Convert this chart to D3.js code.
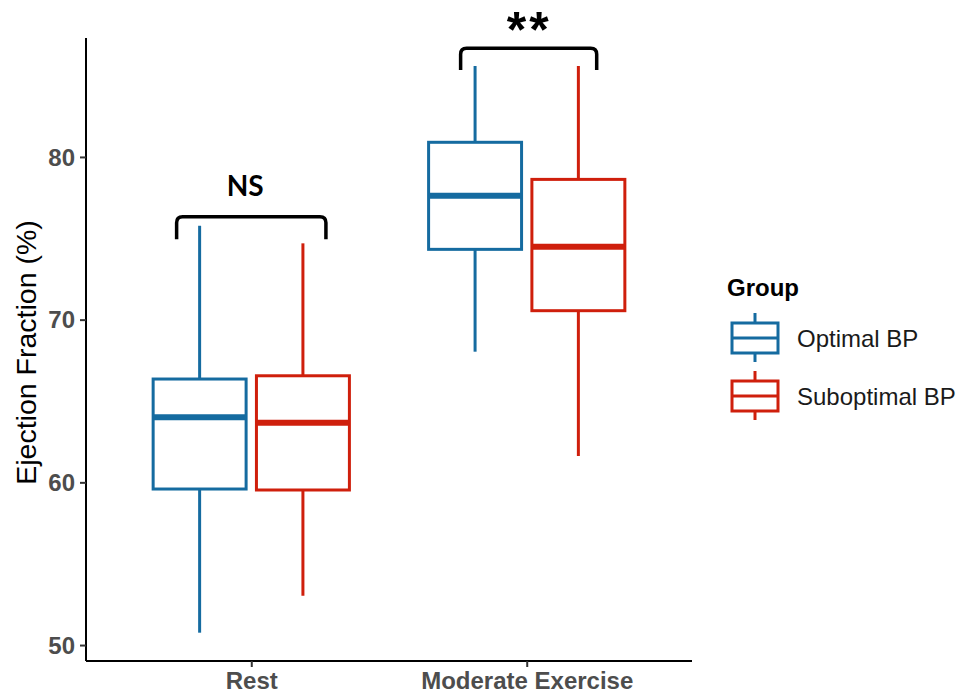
<!DOCTYPE html>
<html>
<head>
<meta charset="utf-8">
<script src="https://cdn.jsdelivr.net/npm/d3@7"></script>
<style>
  html, body { margin: 0; padding: 0; background: #fff; }
  svg { display: block; }
</style>
</head>
<body>
<svg id="chart" width="963" height="695"></svg>
<script>
// Conditions on the x axis and the two BP groups
const conditions = ["Rest", "Moderate Exercise"];
const groups = ["Optimal BP", "Suboptimal BP"];
const groupColors = ["#156ba0", "#cf1f0c"];

// Box summaries per condition: [lower whisker, Q1, median, Q3, upper whisker]
const optimalStats = [
  [50.76, 59.59, 64.0, 66.35, 75.77],
  [68.03, 74.32, 77.62, 80.9, 85.59]
];
const suboptimalStats = [
  [53.03, 59.53, 63.66, 66.55, 74.69],
  [61.62, 70.55, 74.48, 78.62, 85.59]
];

// Significance annotations: bracket top, bracket end, label
const sigLabels = ["NS", "**"];
const sigTop = [76.33, 86.68];
const sigEnd = [74.94, 85.35];
const yTicks = [50, 60, 70, 80];

const svg = d3.select("#chart");
const plotLeft = 86, plotRight = 692, plotTop = 38, plotBottom = 661;

const x = d3.scalePoint().domain(conditions).range([plotLeft, plotRight]).padding(0.6);
const step = x.step();
const xg = d3.scaleBand().domain(groups).range([-0.375 * step, 0.375 * step]);
const y = d3.scaleLinear().domain([49.02, 87.31]).range([plotBottom, plotTop]);

const boxW = xg.bandwidth() * 0.9;

// Axes
const yAxis = svg.append("g").attr("transform", `translate(${plotLeft},0)`)
  .call(d3.axisLeft(y).tickValues(yTicks).tickSize(6).tickPadding(5).tickSizeOuter(0));
const xAxis = svg.append("g").attr("transform", `translate(0,${plotBottom})`)
  .call(d3.axisBottom(x).tickSize(6).tickPadding(5).tickSizeOuter(0));
[yAxis, xAxis].forEach(a => {
  a.select(".domain").attr("stroke", "#000").attr("stroke-width", 2);
  a.selectAll(".tick line").attr("stroke", "#333").attr("stroke-width", 2);
  a.selectAll(".tick text")
    .attr("fill", "#4d4d4d")
    .attr("font-family", "'Liberation Sans', Arial, sans-serif")
    .attr("font-weight", "bold")
    .attr("font-size", 24);
});
yAxis.select(".domain").attr("d", `M0,${plotTop}V${plotBottom}`);
xAxis.select(".domain").attr("d", `M${plotLeft},0H${plotRight}`);
yAxis.selectAll(".tick text").attr("dy", "0.34em");
xAxis.selectAll(".tick text").attr("dy", "0.7em");

// Y axis title
svg.append("text")
  .attr("transform", `translate(36,${(plotTop + plotBottom) / 2 + 3}) rotate(-90)`)
  .attr("text-anchor", "middle")
  .attr("font-family", "'Liberation Sans', Arial, sans-serif")
  .attr("font-size", 28.5)
  .attr("fill", "#000")
  .text("Ejection Fraction (%)");

// Boxplots
const allStats = [optimalStats, suboptimalStats];
groups.forEach((g, gi) => {
  const color = groupColors[gi];
  const gEl = svg.append("g");
  conditions.forEach((c, ci) => {
    const s = allStats[gi][ci];
    const cx = x(c) + xg(g) + xg.bandwidth() / 2;
    // whiskers
    gEl.append("line").attr("x1", cx).attr("x2", cx)
      .attr("y1", y(s[4])).attr("y2", y(s[3]))
      .attr("stroke", color).attr("stroke-width", 3);
    gEl.append("line").attr("x1", cx).attr("x2", cx)
      .attr("y1", y(s[1])).attr("y2", y(s[0]))
      .attr("stroke", color).attr("stroke-width", 3);
    // box
    gEl.append("rect")
      .attr("x", cx - boxW / 2).attr("width", boxW)
      .attr("y", y(s[3])).attr("height", y(s[1]) - y(s[3]))
      .attr("fill", "#fff").attr("stroke", color).attr("stroke-width", 3);
    // median
    gEl.append("line")
      .attr("x1", cx - boxW / 2).attr("x2", cx + boxW / 2)
      .attr("y1", y(s[2])).attr("y2", y(s[2]))
      .attr("stroke", color).attr("stroke-width", 6);
  });
});

// Significance brackets (half-width and shift as fractions of the category step)
const sigHalf = [0.271, 0.247];
const sigShift = [0, 0.007];
const r = 6;
conditions.forEach((c, ci) => {
  const cx = x(c) + sigShift[ci] * step;
  const x0 = cx - sigHalf[ci] * step, x1 = cx + sigHalf[ci] * step;
  const yt = y(sigTop[ci]), ye = y(sigEnd[ci]);
  const p = d3.path();
  p.moveTo(x0, ye);
  p.lineTo(x0, yt + r);
  p.quadraticCurveTo(x0, yt, x0 + r, yt);
  p.lineTo(x1 - r, yt);
  p.quadraticCurveTo(x1, yt, x1, yt + r);
  p.lineTo(x1, ye);
  svg.append("path").attr("d", p.toString())
    .attr("fill", "none").attr("stroke", "#000").attr("stroke-width", 3.5);
  const isStars = sigLabels[ci] === "**";
  const label = svg.append("text")
    .attr("text-anchor", "middle")
    .attr("font-weight", "bold")
    .attr("fill", "#000")
    .text(sigLabels[ci]);
  if (isStars) {
    label.attr("x", cx + 0.5).attr("y", yt - 1.5)
      .attr("font-family", "'Liberation Sans', Arial, sans-serif")
      .attr("font-size", 50)
      .attr("letter-spacing", 3);
  } else {
    label.attr("x", cx - 6).attr("y", yt - 21)
      .attr("font-family", "Lato, 'Open Sans', sans-serif")
      .attr("font-size", 28);
  }
});

// Legend
const lg = svg.append("g").attr("font-family", "'Liberation Sans', Arial, sans-serif");
lg.append("text").attr("x", 727).attr("y", 296)
  .attr("font-size", 24).attr("font-weight", "bold").attr("fill", "#000").text("Group");
groups.forEach((g, gi) => {
  const color = groupColors[gi];
  const cy = 338 + gi * 58;
  const kx = 732, kw = 46;
  const item = lg.append("g");
  item.append("line").attr("x1", kx + kw / 2).attr("x2", kx + kw / 2)
    .attr("y1", cy - 25).attr("y2", cy + 24).attr("stroke", color).attr("stroke-width", 3);
  item.append("rect").attr("x", kx).attr("y", cy - 15).attr("width", kw).attr("height", 30)
    .attr("fill", "#fff").attr("stroke", color).attr("stroke-width", 3);
  item.append("line").attr("x1", kx).attr("x2", kx + kw).attr("y1", cy).attr("y2", cy)
    .attr("stroke", color).attr("stroke-width", 3);
  item.append("text").attr("x", 797).attr("y", cy).attr("dy", "0.36em")
    .attr("font-size", 24).attr("fill", "#1a1a1a").text(g);
});
</script>
</body>
</html>
